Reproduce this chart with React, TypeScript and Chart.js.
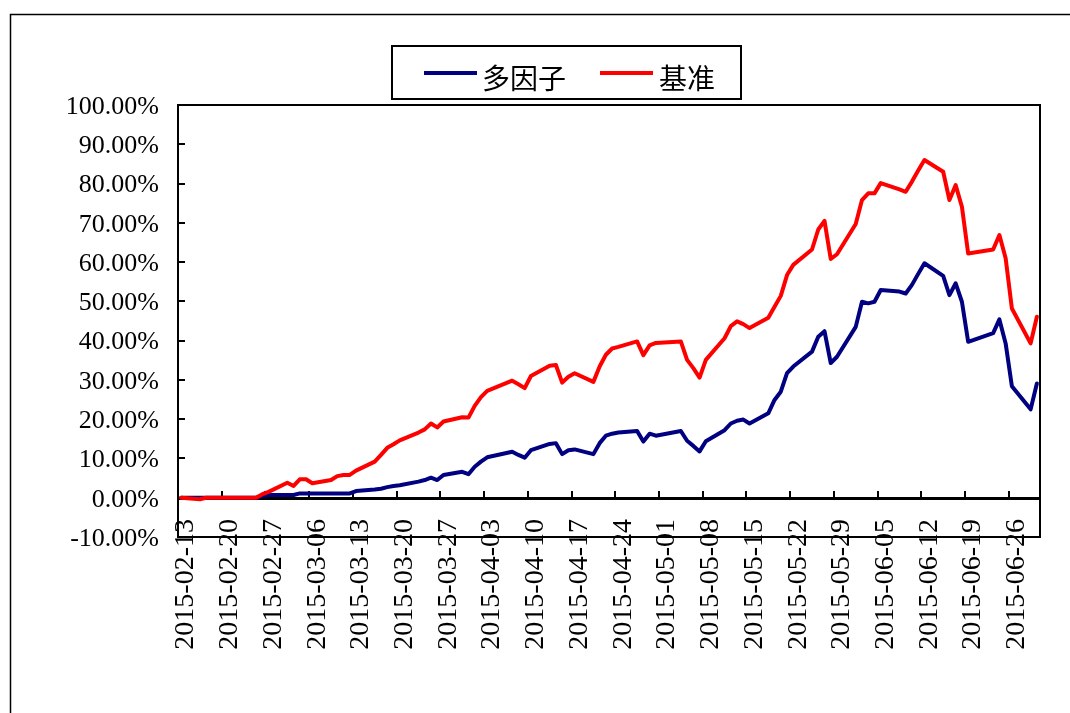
import React, { useEffect, useRef } from "react";
import { Chart, registerables } from "chart.js";

Chart.register(...registerables);

// ---- data ----
const tradeDates: string[] = [
  "2015-02-13", "2015-02-16", "2015-02-17", "2015-02-25", "2015-02-26", "2015-02-27",
  "2015-03-02", "2015-03-03", "2015-03-04", "2015-03-05", "2015-03-06",
  "2015-03-09", "2015-03-10", "2015-03-11", "2015-03-12", "2015-03-13",
  "2015-03-16", "2015-03-17", "2015-03-18", "2015-03-19", "2015-03-20",
  "2015-03-23", "2015-03-24", "2015-03-25", "2015-03-26", "2015-03-27",
  "2015-03-30", "2015-03-31", "2015-04-01", "2015-04-02", "2015-04-03",
  "2015-04-07", "2015-04-08", "2015-04-09", "2015-04-10",
  "2015-04-13", "2015-04-14", "2015-04-15", "2015-04-16", "2015-04-17",
  "2015-04-20", "2015-04-21", "2015-04-22", "2015-04-23", "2015-04-24",
  "2015-04-27", "2015-04-28", "2015-04-29", "2015-04-30",
  "2015-05-04", "2015-05-05", "2015-05-06", "2015-05-07", "2015-05-08",
  "2015-05-11", "2015-05-12", "2015-05-13", "2015-05-14", "2015-05-15",
  "2015-05-18", "2015-05-19", "2015-05-20", "2015-05-21", "2015-05-22",
  "2015-05-25", "2015-05-26", "2015-05-27", "2015-05-28", "2015-05-29",
  "2015-06-01", "2015-06-02", "2015-06-03", "2015-06-04", "2015-06-05",
  "2015-06-08", "2015-06-09", "2015-06-10", "2015-06-11", "2015-06-12",
  "2015-06-15", "2015-06-16", "2015-06-17", "2015-06-18", "2015-06-19",
  "2015-06-23", "2015-06-24", "2015-06-25", "2015-06-26",
  "2015-06-29", "2015-06-30",
];

// 多因子 (%)
const multiFactor: number[] = [
  0, 0, 0, 0, 0.4, 0.7,
  0.7, 0.7, 1.1, 1.1, 1.1,
  1.1, 1.1, 1.1, 1.1, 1.7,
  2.1, 2.3, 2.7, 3.0, 3.2,
  4.1, 4.5, 5.1, 4.5, 5.8,
  6.6, 6.0, 7.9, 9.2, 10.3,
  11.7, 10.9, 10.2, 12.1,
  13.7, 13.9, 11.1, 12.1, 12.3,
  11.1, 13.9, 15.8, 16.3, 16.6,
  17.0, 14.3, 16.3, 15.8,
  17.0, 14.5, 13.2, 11.8, 14.4,
  17.2, 18.9, 19.6, 19.9, 18.9,
  21.5, 24.9, 27.0, 31.7, 33.4,
  37.2, 41.0, 42.4, 34.3, 35.9,
  43.5, 49.9, 49.5, 49.9, 52.9,
  52.5, 52.0, 54.2, 57.0, 59.7,
  56.5, 51.6, 54.6, 49.9, 39.7,
  41.9, 45.4, 39.3, 28.4,
  22.5, 29.1,
];

// 基准 (%)
const benchmark: number[] = [
  0, -0.4, 0, 0, 0.9, 1.5,
  3.8, 3.0, 4.7, 4.7, 3.7,
  4.5, 5.5, 5.8, 5.8, 6.9,
  9.2, 10.9, 12.7, 13.6, 14.6,
  16.6, 17.4, 18.9, 17.9, 19.4,
  20.5, 20.4, 23.4, 25.6, 27.2,
  29.8, 28.9, 27.9, 31.0,
  33.6, 33.8, 29.3, 30.8, 31.7,
  29.5, 33.4, 36.4, 38.0, 38.4,
  39.8, 36.3, 38.8, 39.4,
  39.8, 35.1, 33.0, 30.6, 35.1,
  40.6, 43.7, 44.9, 44.2, 43.2,
  45.8, 48.6, 51.4, 56.7, 59.3,
  63.2, 68.3, 70.5, 60.8, 62.0,
  69.7, 75.8, 77.5, 77.5, 80.1,
  78.5, 77.9, 80.5, 83.3, 86.0,
  83.0, 75.8, 79.6, 74.1, 62.2,
  63.2, 66.9, 61.0, 48.2,
  39.3, 46.1,
];

const xTickLabels: string[] = [
  "2015-02-13", "2015-02-20", "2015-02-27", "2015-03-06", "2015-03-13",
  "2015-03-20", "2015-03-27", "2015-04-03", "2015-04-10", "2015-04-17",
  "2015-04-24", "2015-05-01", "2015-05-08", "2015-05-15", "2015-05-22",
  "2015-05-29", "2015-06-05", "2015-06-12", "2015-06-19", "2015-06-26",
];

const seriesNames: string[] = ["多因子", "基准"];
const seriesColors: string[] = ["#000080", "#FF0000"];

const startDate = "2015-02-13";
const endDate = "2015-06-30";

const dayIndex = (d: string) =>
  Math.round((Date.parse(d) - Date.parse(startDate)) / 86400000);

const SERIF = '"Liberation Serif", "Times New Roman", serif';
const CJK = '"Noto Sans CJK SC", "Noto Sans", sans-serif';

const excelPlugin = {
  id: "excelLook",
  beforeDraw(chart: any) {
    const ctx = chart.ctx as CanvasRenderingContext2D;
    ctx.save();
    ctx.fillStyle = "#ffffff";
    ctx.fillRect(0, 0, chart.width, chart.height);
    ctx.strokeStyle = "#000000";
    ctx.lineWidth = 1.5;
    ctx.beginPath();
    ctx.moveTo(10.5, chart.height + 5);
    ctx.lineTo(10.5, 14.5);
    ctx.lineTo(chart.width + 5, 14.5);
    ctx.stroke();
    ctx.restore();
  },
  beforeDatasetsDraw(chart: any) {
    const ctx = chart.ctx as CanvasRenderingContext2D;
    const a = chart.chartArea;
    const xs = chart.scales.x;
    const ys = chart.scales.y;
    const line = (x1: number, y1: number, x2: number, y2: number) => {
      ctx.beginPath();
      ctx.moveTo(x1, y1);
      ctx.lineTo(x2, y2);
      ctx.stroke();
    };
    ctx.save();
    ctx.strokeStyle = "#000000";
    ctx.lineWidth = 2;
    ctx.strokeRect(a.left, a.top, a.right - a.left, a.bottom - a.top);
    ys.ticks.forEach((t: any) => {
      const py = Math.round(ys.getPixelForValue(t.value));
      line(a.left, py, a.left + 7, py);
    });
    const y0 = Math.round(ys.getPixelForValue(0));
    ctx.lineWidth = 3;
    line(a.left, y0 + 0.5, a.right, y0 + 0.5);
    ctx.lineWidth = 2;
    xs.ticks.forEach((t: any) => {
      const px = Math.round(xs.getPixelForValue(t.value));
      line(px, y0, px, y0 - 7);
    });
    ctx.restore();
  },
  afterDraw(chart: any) {
    const ctx = chart.ctx as CanvasRenderingContext2D;
    ctx.save();
    ctx.strokeStyle = "#000000";
    ctx.lineWidth = 2;
    ctx.strokeRect(392, 46, 349, 53);
    const items = [
      { lx: 424, tx: 482 },
      { lx: 600, tx: 659 },
    ];
    chart.data.datasets.forEach((ds: any, i: number) => {
      const it = items[i];
      ctx.strokeStyle = ds.borderColor;
      ctx.lineWidth = 4;
      ctx.beginPath();
      ctx.moveTo(it.lx, 73);
      ctx.lineTo(it.lx + 53, 73);
      ctx.stroke();
      ctx.fillStyle = "#000000";
      ctx.font = `28px ${CJK}`;
      ctx.textAlign = "left";
      ctx.textBaseline = "middle";
      ctx.fillText(ds.label, it.tx, 78.5);
    });
    ctx.restore();
  },
};

export default function App() {
  const ref = useRef<HTMLCanvasElement | null>(null);

  useEffect(() => {
    if (!ref.current) return;
    const xs = tradeDates.map(dayIndex);
    const tickValues = xTickLabels.map((d) => dayIndex(d) - 0.5);
    const chart = new Chart(ref.current, {
      type: "line",
      data: {
        datasets: [
          {
            label: seriesNames[0],
            data: xs.map((x, i) => ({ x, y: multiFactor[i] })),
            borderColor: seriesColors[0],
            backgroundColor: seriesColors[0],
            borderWidth: 4,
            borderJoinStyle: "round",
            borderCapStyle: "round",
            pointRadius: 0,
            tension: 0,
            order: 2,
          },
          {
            label: seriesNames[1],
            data: xs.map((x, i) => ({ x, y: benchmark[i] })),
            borderColor: seriesColors[1],
            backgroundColor: seriesColors[1],
            borderWidth: 4,
            borderJoinStyle: "round",
            borderCapStyle: "round",
            pointRadius: 0,
            tension: 0,
            order: 1,
          },
        ],
      },
      options: {
        responsive: false,
        animation: false,
        devicePixelRatio: 1,
        layout: { padding: { left: 0, top: 105, right: 30, bottom: 0 } },
        plugins: {
          legend: { display: false },
          tooltip: { enabled: false },
        },
        scales: {
          x: {
            type: "linear",
            min: -0.5,
            max: dayIndex(endDate) + 0.5,
            grid: { display: false, drawTicks: false },
            border: { display: false },
            afterBuildTicks: (scale: any) => {
              scale.ticks = tickValues.map((v) => ({ value: v }));
            },
            afterFit: (scale: any) => {
              scale.height = 176;
              scale.paddingLeft = 0;
              scale.paddingRight = 0;
              scale.paddingTop = 0;
              scale.paddingBottom = 0;
              // let the rotated labels reach up into the plot, as in the original
              scale._computeLabelArea = () => undefined;
            },
            ticks: {
              autoSkip: false,
              minRotation: 90,
              maxRotation: 90,
              padding: -18,
              labelOffset: 8,
              color: "#000000",
              font: { family: SERIF, size: 28 },
              callback: (_v: any, i: number) => xTickLabels[i],
            },
          },
          y: {
            type: "linear",
            min: -10,
            max: 100,
            grid: { display: false, drawTicks: false },
            border: { display: false },
            afterFit: (scale: any) => {
              scale.width = 178;
              scale.paddingLeft = 0;
              scale.paddingRight = 0;
              scale.paddingTop = 0;
              scale.paddingBottom = 0;
            },
            ticks: {
              stepSize: 10,
              padding: 19,
              labelOffset: 2,
              color: "#000000",
              font: { family: SERIF, size: 26 },
              callback: (v: any) => `${Number(v).toFixed(2)}%`,
            },
          },
        },
      } as any,
      plugins: [excelPlugin],
    });
    return () => chart.destroy();
  }, []);

  return (
    <div
      style={{
        position: "absolute",
        left: 0,
        top: 0,
        width: 1070,
        height: 713,
        background: "#ffffff",
      }}
    >
      <canvas ref={ref} width={1070} height={713} style={{ display: "block" }} />
    </div>
  );
}
